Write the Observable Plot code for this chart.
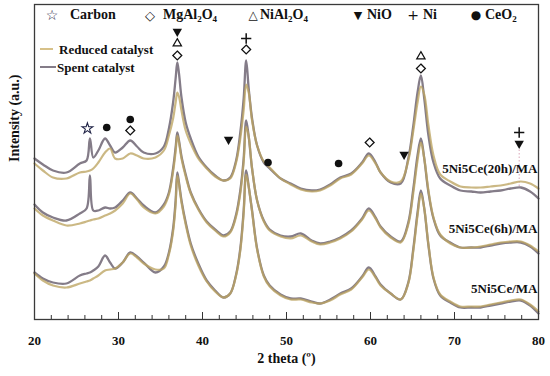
<!DOCTYPE html>
<html><head><meta charset="utf-8">
<script src="https://cdn.jsdelivr.net/npm/d3@7"></script>
<script src="https://cdn.jsdelivr.net/npm/@observablehq/plot@0.6"></script>
<style>
body{margin:0;background:#fff;}
#wrap{position:relative;width:550px;height:376px;font-family:"Liberation Serif",serif;font-weight:bold;color:#111;overflow:hidden;}
#wrap svg{position:absolute;left:0;top:0;}
.lg{position:absolute;font-size:14px;line-height:1;white-space:nowrap;transform:translateY(-50%);}
.lg2{position:absolute;font-size:13px;line-height:1;white-space:nowrap;transform:translateY(-50%);}
.sym{position:absolute;font-family:"DejaVu Sans",sans-serif;font-weight:normal;line-height:1;transform:translate(-50%,-50%);}
sub{font-size:9px;vertical-align:-3px;line-height:0;}
.ln{position:absolute;height:2px;}
</style></head><body><div id="wrap"></div>
<script>
// 2 theta grid (degrees)
const theta = [20,21,22.2,23.8,25.4,26.2,26.6,27.0,27.6,28.4,29.0,29.6,30.5,31.4,32.2,33.0,34.4,
  35.4,36.0,36.5,36.8,37.0,37.2,37.5,38.0,38.6,39.5,40.5,41.5,42.5,43.3,44.0,44.5,44.9,45.2,45.5,45.9,46.5,47.3,48.0,
  49.3,50.5,51.7,53.0,54.0,55.2,56.4,57.7,59.0,59.8,60.6,61.2,62.4,63.6,
  64.5,65.1,65.6,66.0,66.4,66.9,67.5,68.3,
  69.5,70.7,72.0,73.1,74.3,75.5,76.7,77.9,79.0,80.0];

// Intensities (a.u., stacked with offsets as in the figure)
const spent20h = [161,155,149,147,156,159,181,162,169,181,174,167,172,179,173,167,166,
  173,191,217,241,257,246,222,197,181,163,152,144,139,142,159,187,221,259,231,201,174,157,151,
  141,136,131,129,130,135,142,146,157,166,157,147,137,136,
  161,194,227,244,221,184,157,141,
  134,129,128,127,128,129,131,132,128,121];
const reduced20h = [156,149,142,141,147,148,149,151,157,167,171,161,161,166,164,161,162,
  169,184,201,217,227,223,209,189,176,161,151,143,139,141,157,181,209,235,227,199,174,158,152,
  141,135,130,128,129,134,141,145,156,164,156,147,138,138,
  159,189,217,233,225,194,164,145,
  138,133,132,132,133,134,136,138,136,131];
const spent6h = [115,107,102,99,106,111,144,109,109,112,111,112,119,127,121,114,107,
  115,127,151,172,187,179,163,145,127,111,98,90,84,88,105,129,161,199,183,151,119,99,90,
  84,83,86,79,76,78,82,89,101,111,102,93,83,78,
  97,131,164,181,161,127,101,84,
  77,72,72,72,74,76,77,77,73,66];
const reduced6h = [111,104,99,94,96,98,99,100,101,104,106,109,116,126,120,112,106,
  113,125,148,168,184,177,161,143,126,110,97,89,83,87,103,126,157,193,183,151,119,98,89,
  83,81,84,78,75,77,81,88,100,109,101,92,82,77,
  95,127,159,177,161,129,102,85,
  76,72,72,73,75,77,78,78,74,68];
const spentBase = [47,41,37,36,44,46,47,49,53,64,57,51,57,67,63,57,47,
  53,67,91,119,147,137,119,97,76,56,39,29,22,26,45,71,109,149,133,109,71,44,34,
  25,21,21,18,16,20,26,31,43,52,43,35,26,20,
  37,71,107,129,111,74,41,24,
  17,12,12,12,14,16,18,19,14,6];
const reducedBase = [46,39,34,32,36,38,39,41,44,49,50,51,57,66,62,56,50,
  51,65,88,115,144,135,117,95,74,54,38,28,22,26,44,69,106,145,133,108,70,43,33,
  24,20,20,17,16,19,25,30,42,50,42,34,26,20,
  36,69,104,126,111,75,42,25,
  18,13,13,13,15,17,19,20,15,8];

const samples = ["5Ni5Ce(20h)/MA","5Ni5Ce(6h)/MA","5Ni5Ce/MA"];
const sampleLabelLevel = [151,91,31];

// phase markers above reflections
const markerPhase = ["Carbon","CeO2","CeO2","MgAl2O4","NiO","NiAl2O4","MgAl2O4","Ni","MgAl2O4","NiO","CeO2","CeO2","MgAl2O4","NiO","NiAl2O4","MgAl2O4","Ni","NiO"];
const markerTheta = [26.3,28.6,31.4,31.4,37.0,37.0,37.0,45.2,45.2,43.1,47.8,56.2,59.9,64.0,66.0,66.0,77.7,77.7];
const markerLevel = [191,192,200,189,288,276,264,281,270,180,157,156,177,165,263,251,187,176];
const guideTheta = [77.7];
const guideFrom = [133];
const guideTo = [170];

const majorTicks = [20,30,40,50,60,70,80];
const minorTicks = d3.range(20, 81, 2);

const grayC = "#847c88", tanC = "#bca462";

function rows(vals, name) { return theta.map((t, i) => ({theta: t, I: vals[i], sample: name})); }
const spentRows = [...rows(spent20h, samples[0]), ...rows(spent6h, samples[1]), ...rows(spentBase, samples[2])];
const reducedRows = [...rows(reduced20h, samples[0]), ...rows(reduced6h, samples[1]), ...rows(reducedBase, samples[2])];
const markers = markerPhase.map((p, i) => ({phase: p, theta: markerTheta[i], level: markerLevel[i]}));

const phaseStyle = {
  Carbon:  {symbol: "star", fill: "none", stroke: "#1f2245", r: 3.4, strokeWidth: 1.1},
  MgAl2O4: {symbol: "diamond2", fill: "none", stroke: "#111", r: 4, strokeWidth: 1.3},
  NiAl2O4: {symbol: "triangle2", fill: "none", stroke: "#111", r: 4, strokeWidth: 1.2},
  NiO:     {symbol: "triangle", fill: "#111", stroke: "none", r: 3.5, rotate: 180},
  Ni:      {symbol: "plus", fill: "none", stroke: "#111", r: 3.4, strokeWidth: 1.5},
  CeO2:    {symbol: "circle", fill: "#111", stroke: "none", r: 3.8}
};

const marks = [
  Plot.ruleX(guideTheta, {x: d => d, y1: guideFrom[0], y2: guideTo[0], stroke: "#d9a7b8", strokeDasharray: "1.5,2", strokeWidth: 1}),
  Plot.line(spentRows, {x: "theta", y: "I", z: "sample", stroke: grayC, strokeWidth: 2.3, curve: "catmull-rom"}),
  Plot.line(reducedRows, {x: "theta", y: "I", z: "sample", stroke: tanC, strokeOpacity: 0.78, strokeWidth: 2.2, curve: "catmull-rom"}),
  ...Object.entries(phaseStyle).map(([p, s]) =>
    Plot.dot(markers.filter(m => m.phase === p), {x: "theta", y: "level", ...s})),
  Plot.text(samples, {x: () => 80, y: (d, i) => sampleLabelLevel[i], text: d => d, textAnchor: "end", dx: -1, fontSize: 13}),
  Plot.ruleX(minorTicks, {x: d => d, y1: 0, y2: 4, stroke: "#333", strokeWidth: 1}),
  Plot.ruleX(majorTicks, {x: d => d, y1: 0, y2: 7, stroke: "#333", strokeWidth: 1}),
  Plot.axisX({ticks: majorTicks, tickSize: 0, tickPadding: 16, tickFormat: d => String(d), label: null, fontSize: 13}),
  Plot.text(["2 theta (º)"], {frameAnchor: "bottom", dy: 43, fontSize: 14}),
  Plot.text(["Intensity (a.u.)"], {frameAnchor: "left", rotate: -90, dx: -20, fontSize: 14}),
  Plot.frame({stroke: "#3a3a3a", strokeWidth: 1.3})
];

const chart = Plot.plot({
  width: 550, height: 376,
  marginLeft: 34, marginRight: 12, marginTop: 4, marginBottom: 57,
  x: {domain: [20, 80]},
  y: {domain: [0, 315], axis: null},
  style: {fontFamily: '"Liberation Serif", serif', fontWeight: "bold", fontSize: "13px", color: "#111", background: "white"},
  marks
});
const wrap = document.getElementById("wrap");
wrap.appendChild(chart);

// Legend overlay
const legendHTML = `
<span class="sym" style="left:52px;top:15px;font-size:14px;color:#1f2245">☆</span><span class="lg" style="left:70px;top:15px">Carbon</span>
<span class="sym" style="left:150px;top:15px;font-size:13px">◇</span><span class="lg" style="left:163px;top:15px">MgAl<sub>2</sub>O<sub>4</sub></span>
<span class="sym" style="left:253px;top:15px;font-size:12px">△</span><span class="lg" style="left:260px;top:15px">NiAl<sub>2</sub>O<sub>4</sub></span>
<span class="sym" style="left:358px;top:15px;font-size:11px">▼</span><span class="lg" style="left:367px;top:15px">NiO</span>
<span class="sym" style="left:413px;top:15px;font-size:14px">+</span><span class="lg" style="left:423px;top:15px">Ni</span>
<span class="sym" style="left:476px;top:15px;font-size:12px">●</span><span class="lg" style="left:485px;top:15px">CeO<sub>2</sub></span>
<div class="ln" style="left:40px;top:48px;width:13px;background:#d7c189"></div><span class="lg2" style="left:59px;top:49px">Reduced catalyst</span>
<div class="ln" style="left:40px;top:66px;width:16px;background:${grayC}"></div><span class="lg2" style="left:57px;top:67px">Spent catalyst</span>
`;
const ov = document.createElement("div");
ov.innerHTML = legendHTML;
while (ov.firstChild) wrap.appendChild(ov.firstChild);
</script></body></html>
